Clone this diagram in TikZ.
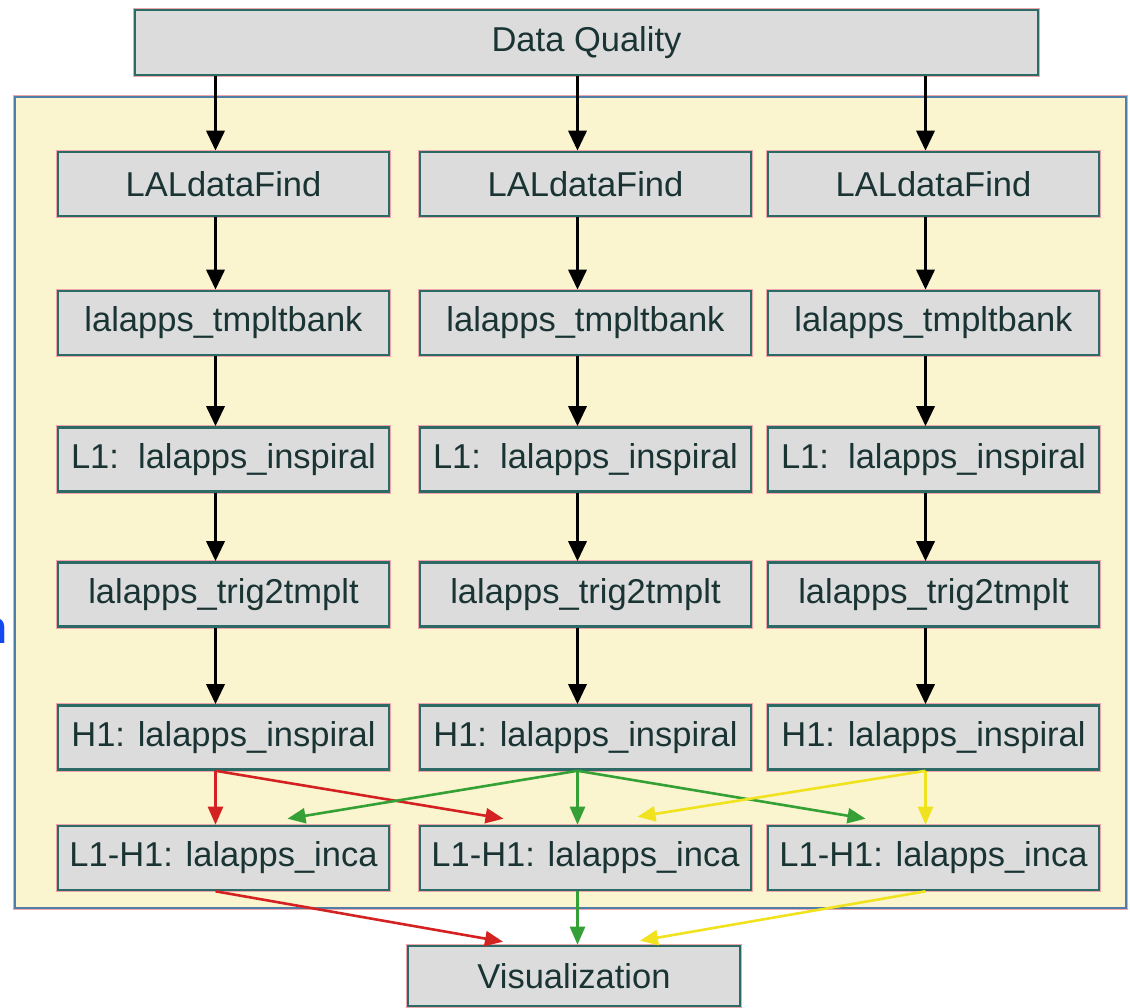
\documentclass[tikz,border=0pt]{standalone}
\usepackage{fontspec}
\setmainfont{Liberation Sans}
\usetikzlibrary{arrows.meta,calc}

\definecolor{boxfill}{HTML}{DCDCDC}
\definecolor{boxline}{HTML}{2C6A66}
\definecolor{halo}{HTML}{F0A4AC}
\definecolor{panelfill}{HTML}{FAF5CE}
\definecolor{panelline}{HTML}{4F7FA6}
\definecolor{ink}{HTML}{1A3434}
\definecolor{edgered}{HTML}{D42222}
\definecolor{edgegreen}{HTML}{35A035}
\definecolor{edgeyellow}{HTML}{F0E21E}
\definecolor{pageblue}{HTML}{1448F0}

\begin{document}
\begin{tikzpicture}[x=1pt,y=-1pt,
  stepbox/.style={draw=boxline, line width=2.6pt, fill=boxfill,
    preaction={draw=halo, line width=4.6pt},
    minimum width=331pt, minimum height=64pt, inner sep=0pt,
    text=ink, font=\fontsize{34.5}{40}\selectfont},
  flow/.style={line width=3.4pt, draw=black, -{Triangle[length=20pt,width=18pt]}},
  cflow/.style={line width=2.6pt, draw=#1, -{Triangle[length=18pt,width=15pt,fill=#1]}},
]
\useasboundingbox (0,0) rectangle (1130,1008);

% workflow group
\draw[preaction={draw=halo,line width=4.6pt}, draw=panelline, line width=2.4pt, fill=panelfill]
  (15,97) rectangle (1126,908);

% edge of a word from the surrounding page
\node[anchor=base east, text=pageblue, inner sep=0pt,
      font=\fontsize{46}{50}\selectfont\bfseries] (frag) at (8,643) {n};

% column positions of the vertical edges
\coordinate (x1) at (215.5,0);
\coordinate (x2) at (577.5,0);
\coordinate (x3) at (925.5,0);

% nodes
\node[stepbox, minimum width=903pt, minimum height=65pt] (dq) at (586.5,42.5) {Data Quality};

\foreach \c/\x in {1/223.5, 2/585.5, 3/933.5}{
  \node[stepbox] (lal\c)  at (\x,184)   {LALdataFind};
  \node[stepbox] (tmp\c)  at (\x,323)   {lalapps\_tmpltbank};
  \node[stepbox] (lone\c) at (\x,459.5) {L1:\ \ lalapps\_inspiral};
  \node[stepbox] (trig\c) at (\x,594.5) {lalapps\_trig2tmplt};
  \node[stepbox] (hone\c) at (\x,737.5) {H1: lalapps\_inspiral};
  \node[stepbox] (inca\c) at (\x,858)   {L1-H1: lalapps\_inca};
}

\node[stepbox, minimum width=332pt, minimum height=60pt] (vis) at (574,976) {Visualization};

% per-column chains
\foreach \c in {1,2,3}{
  \draw[flow] (dq.south -| x\c)   -- (lal\c.north -| x\c);
  \draw[flow] (lal\c.south -| x\c) -- (tmp\c.north -| x\c);
  \draw[flow] (tmp\c.south -| x\c) -- (lone\c.north -| x\c);
  \draw[flow] (lone\c.south -| x\c) -- (trig\c.north -| x\c);
  \draw[flow] (trig\c.south -| x\c) -- (hone\c.north -| x\c);
}

% H1 results feeding the coincidence jobs
\draw[cflow=edgered]    (hone1.south -| x1) -- (inca1.north -| x1);
\draw[cflow=edgered]    (hone1.south -| x1) -- ($(inca2.north)+(-82,-6)$);
\draw[cflow=edgegreen]  (hone2.south -| x2) -- ($(inca1.north)+(64,-6)$);
\draw[cflow=edgegreen]  (hone2.south -| x2) -- (inca2.north -| x2);
\draw[cflow=edgegreen]  (hone2.south -| x2) -- ($(inca3.north)+(-68,-6)$);
\draw[cflow=edgeyellow] (hone3.south -| x3) -- ($(inca2.north)+(52,-8)$);
\draw[cflow=edgeyellow] (hone3.south -| x3) -- (inca3.north -| x3);

% coincidence jobs feeding the visualization
\draw[cflow=edgered]    (inca1.south -| x1) -- ($(vis.north)+(-71,-3)$);
\draw[cflow=edgegreen]  (inca2.south -| x2) -- (vis.north -| x2);
\draw[cflow=edgeyellow] (inca3.south -| x3) -- ($(vis.north)+(66,-4)$);
\end{tikzpicture}
\end{document}
